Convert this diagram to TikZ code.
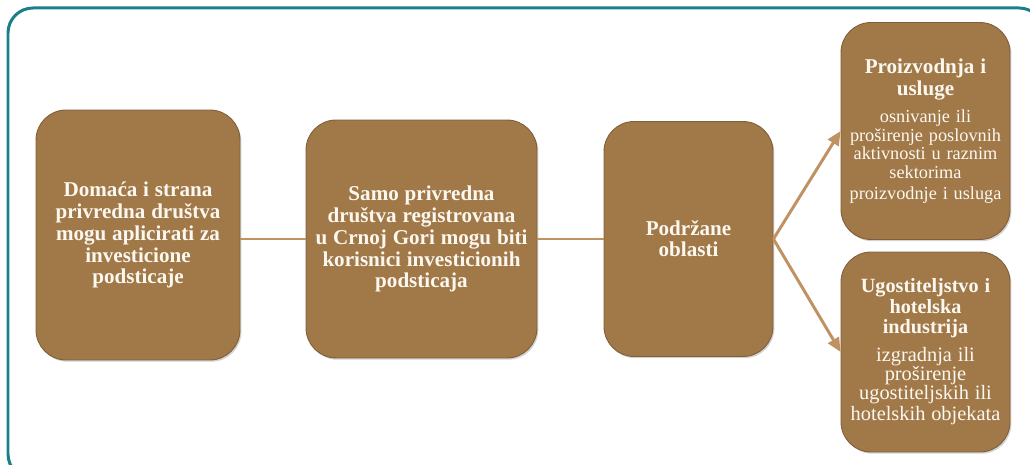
\documentclass[tikz,border=0pt]{standalone}
\usepackage{fontspec}
\setmainfont{Liberation Serif}
\usetikzlibrary{arrows.meta,shadows}
\definecolor{boxbrown}{RGB}{161,121,73}
\definecolor{edgebrown}{RGB}{128,94,55}
\definecolor{linkbrown}{RGB}{192,146,98}
\definecolor{frameteal}{RGB}{26,127,136}
\definecolor{cream}{RGB}{252,248,240}
\tikzset{
  brownbox/.style={rectangle, rounded corners=0.6cm, fill=boxbrown, draw=edgebrown, line width=0.5pt,
    text=cream, align=center, inner sep=2pt,
    drop shadow={shadow xshift=0.8pt, shadow yshift=-1pt, opacity=0.35}},
  link/.style={draw=linkbrown, line width=1.7pt},
  pointer/.style={link, -{Triangle[width=7pt,length=8pt]}},
  frame/.style={draw=frameteal, line width=1.7pt, rounded corners=0.5cm}
}
\newcommand{\headfont}{\bfseries\fontsize{12}{12.6}\selectfont}
\begin{document}
\begin{tikzpicture}[x=0.02cm, y=-0.02cm]
            \useasboundingbox (0,0) rectangle (1030,465);
            \clip (0,0) rectangle (1030,465);
            \draw[frame] (8,8) rectangle (1044,479);
            % main row
            \node[brownbox, minimum width=4.08cm, minimum height=5cm, text width=3.9cm] (dom) at (138,235)
              {\headfont Domaća i strana\\ privredna društva\\ mogu aplicirati za\\ investicione\\ podsticaje};
            \node[brownbox, minimum width=4.62cm, minimum height=4.76cm, text width=4.4cm] (samo) at (421.5,239)
              {\headfont Samo privredna\\ društva registrovana\\ u Crnoj Gori mogu biti\\ korisnici investicionih\\ podsticaja};
            \node[brownbox, minimum width=3.38cm, minimum height=4.7cm, text width=3.2cm] (podr) at (688.5,239)
              {\headfont Podržane\\ oblasti};
            % right column
            \node[brownbox, minimum width=3.38cm, minimum height=4.34cm, text width=3.2cm] (proiz) at (925.5,131)
              {\headfont Proizvodnja i\\ usluge\par\vspace{5pt}
               \mdseries\fontsize{10.4}{10.5}\selectfont osnivanje ili\\ proširenje poslovnih\\ aktivnosti u raznim\\ sektorima\\ proizvodnje i usluga};
            \node[brownbox, minimum width=3.38cm, minimum height=4cm, text width=3.2cm] (ugost) at (925.5,352)
              {\bfseries\fontsize{11.5}{11.5}\selectfont Ugostiteljstvo i\\ hotelska\\ industrija\par\vspace{5pt}
               \mdseries\fontsize{11.6}{10.9}\selectfont izgradnja ili\\ proširenje\\ ugostiteljskih ili\\ hotelskih objekata};
            % connectors
            \draw[link] (dom.east |- samo.west) -- (samo.west);
            \draw[link] (samo.east) -- (podr.west);
            \draw[pointer] (podr.east) -- (proiz.west);
            \draw[pointer] (podr.east) -- (ugost.west);
\end{tikzpicture}
\end{document}
